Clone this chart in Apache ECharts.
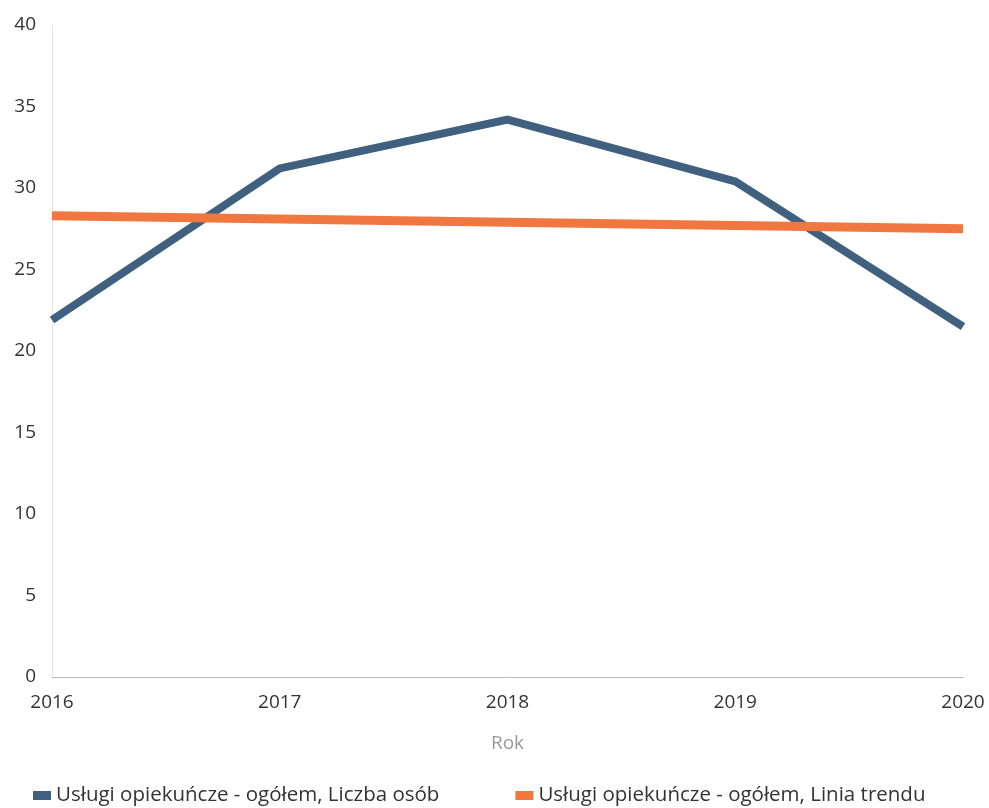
<!DOCTYPE html>
<html>
<head>
<meta charset="utf-8">
<script src="https://cdn.jsdelivr.net/npm/echarts@6/dist/echarts.min.js"></script>
<style>
  html, body { margin: 0; padding: 0; background: #fff; }
  #chart { width: 989px; height: 808px; }
</style>
</head>
<body>
<div id="chart"></div>
<script>
const years = ['2016', '2017', '2018', '2019', '2020'];
const liczbaOsob = [21.9, 31.2, 34.2, 30.4, 21.5];
const liniaTrendu = [28.3, 28.1, 27.9, 27.7, 27.5];

const FONT = '"Open Sans", "Noto Sans", sans-serif';

const chart = echarts.init(document.getElementById('chart'));

chart.setOption({
  animation: false,
  textStyle: { fontFamily: FONT },
  grid: { left: 52, right: 26, top: 25, bottom: 131 },
  legend: {
    top: 780,
    left: 28,
    itemWidth: 18,
    itemHeight: 9,
    itemGap: 76,
    icon: 'rect',
    textStyle: { fontSize: 20.5, color: '#333', fontFamily: FONT },
    data: [
      'Usługi opiekuńcze - ogółem, Liczba osób',
      'Usługi opiekuńcze - ogółem, Linia trendu'
    ]
  },
  xAxis: {
    type: 'category',
    data: years,
    boundaryGap: false,
    name: 'Rok',
    nameLocation: 'middle',
    nameGap: 57,
    nameTextStyle: { fontSize: 19, color: '#999' },
    axisLine: { lineStyle: { color: '#bbb' } },
    axisTick: { show: false },
    axisLabel: { fontSize: 19, color: '#333', margin: 16 },
    splitLine: { show: false }
  },
  yAxis: {
    type: 'value',
    min: 0,
    max: 40,
    interval: 5,
    axisLine: { show: true, lineStyle: { color: '#e6e6e6' } },
    axisTick: { show: false },
    axisLabel: { fontSize: 19, color: '#333', margin: 16 },
    splitLine: { show: false }
  },
  series: [
    {
      name: 'Usługi opiekuńcze - ogółem, Liczba osób',
      type: 'line',
      data: liczbaOsob,
      showSymbol: false,
      symbol: 'none',
      color: '#40607f',
      lineStyle: { width: 8, color: '#40607f', join: 'miter' },
      z: 2
    },
    {
      name: 'Usługi opiekuńcze - ogółem, Linia trendu',
      type: 'line',
      data: liniaTrendu,
      showSymbol: false,
      symbol: 'none',
      color: '#f07840',
      lineStyle: { width: 9, color: '#f07840' },
      z: 3
    }
  ]
});
</script>
</body>
</html>
